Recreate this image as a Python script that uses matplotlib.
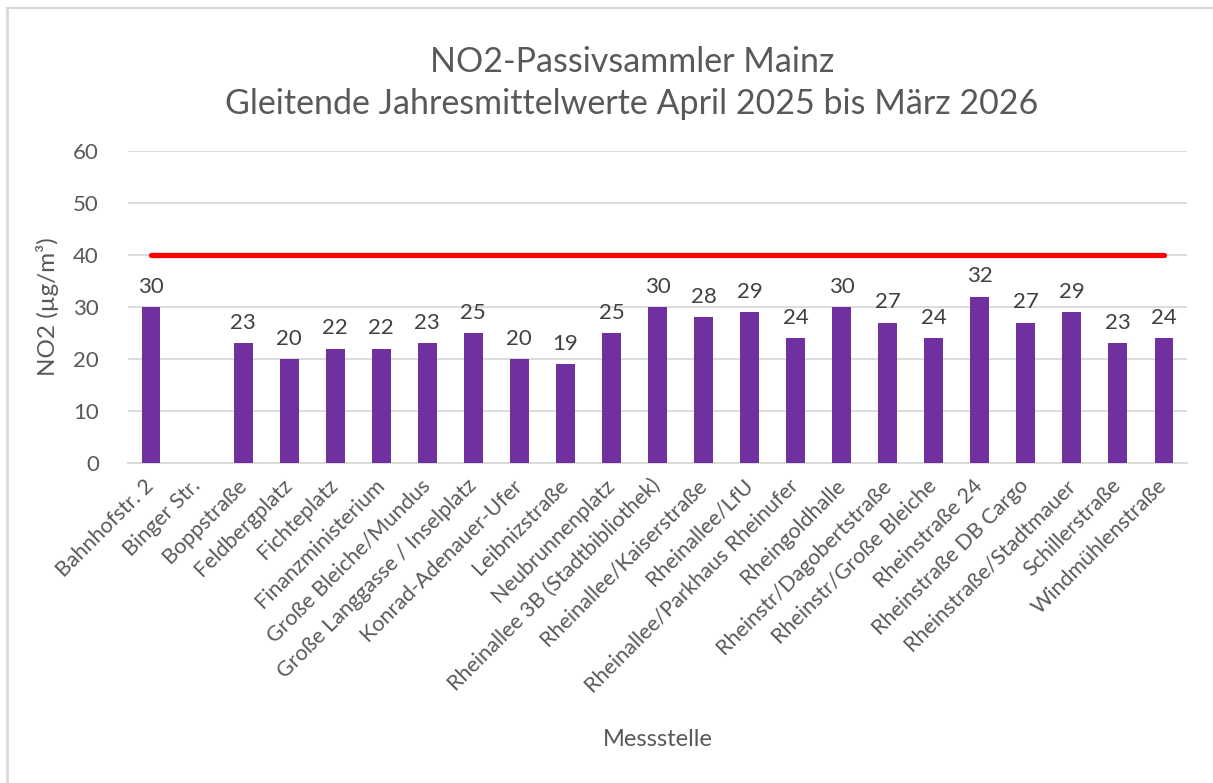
import matplotlib
matplotlib.use("Agg")
import matplotlib.pyplot as plt
import numpy as np
from matplotlib.lines import Line2D

plt.rcParams['font.family'] = ['Lato', 'DejaVu Sans']

categories = ["Bahnhofstr. 2", "Binger Str.", "Boppstraße", "Feldbergplatz", "Fichteplatz",
              "Finanzministerium", "Große Bleiche/Mundus", "Große Langgasse / Inselplatz",
              "Konrad-Adenauer-Ufer", "Leibnizstraße", "Neubrunnenplatz",
              "Rheinallee 3B (Stadtbibliothek)", "Rheinallee/Kaiserstraße", "Rheinallee/LfU",
              "Rheinallee/Parkhaus Rheinufer", "Rheingoldhalle", "Rheinstr/Dagobertstraße",
              "Rheinstr/Große Bleiche", "Rheinstraße 24", "Rheinstraße DB Cargo",
              "Rheinstraße/Stadtmauer", "Schillerstraße", "Windmühlenstraße"]
values = [30, None, 23, 20, 22, 22, 23, 25, 20, 19, 25, 30, 28, 29, 24, 30, 27, 24, 32, 27, 29, 23, 24]
limit_value = 40
y_ticks = [0, 10, 20, 30, 40, 50, 60]

TXT = "#595959"
fig = plt.figure(figsize=(12.13, 7.83), dpi=100)
ax = fig.add_axes([128/1213, 1-463/783, (1187-128)/1213, (463-151)/783])

x = np.arange(len(categories))
vals = np.array([np.nan if v is None else v for v in values], dtype=float)
bars = ax.bar(x, np.nan_to_num(vals), width=0.41, color="#7030A0", zorder=3)
for xi, v in zip(x, values):
    if v is not None:
        ax.text(xi, v + 2.0, f"{v}", ha="center", va="bottom", fontsize=16, color="#404040", zorder=4)

ax.plot(x, [limit_value]*len(x), color="#FF0000", lw=3.8, solid_capstyle="round", zorder=5)

ax.set_xlim(-0.5, len(categories)-0.5)
ax.set_ylim(0, 60)
ax.set_yticks(y_ticks)
ax.set_yticklabels([str(t) for t in y_ticks], fontsize=16, color=TXT)
ax.set_xticks(x)
ax.set_xticklabels(categories, rotation=45, ha="right", va="center", rotation_mode="anchor",
                   fontsize=15.5, color=TXT)
ax.tick_params(axis="both", length=0)
ax.tick_params(axis="y", pad=21)
ax.tick_params(axis="x", pad=14)
ax.grid(axis="y", color="#D9D9D9", lw=1.3, zorder=0)
for s in ["top", "right", "left"]:
    ax.spines[s].set_visible(False)
ax.spines["bottom"].set_color("#D9D9D9")
ax.spines["bottom"].set_linewidth(1.3)
ax.set_axisbelow(True)

ax.set_ylabel("NO2 (µg/m³)", fontsize=17.5, color=TXT, labelpad=10)
fig.text((128+1187)/2/1213, 1-740/783, "Messstelle", ha="center", va="center", fontsize=17, color=TXT)
fig.text(632/1213, 1-62/783, "NO2-Passivsammler Mainz", ha="center", va="center", fontsize=24.5, color=TXT)
fig.text(632/1213, 1-104/783, "Gleitende Jahresmittelwerte April 2025 bis März 2026", ha="center", va="center", fontsize=24.5, color=TXT)

# chart border (top and left visible)
fig.add_artist(Line2D([7/1213, 7/1213], [0, 1-8/783], transform=fig.transFigure, color="#D9D9D9", lw=2))
fig.add_artist(Line2D([7/1213, 1], [1-8/783, 1-8/783], transform=fig.transFigure, color="#D9D9D9", lw=1.5))

fig.savefig("out.png", dpi=100)
